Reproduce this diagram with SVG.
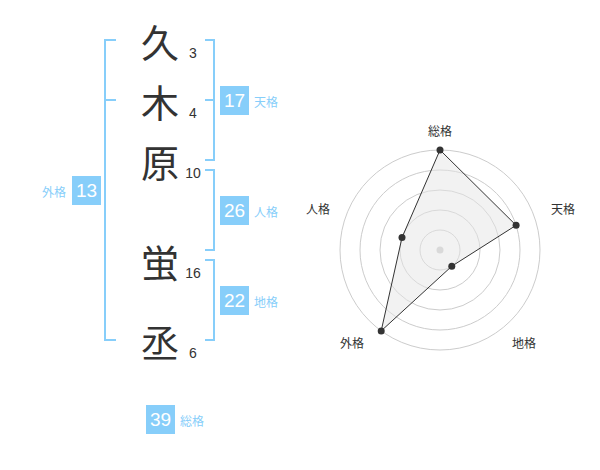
<svg xmlns="http://www.w3.org/2000/svg" width="600" height="470" viewBox="0 0 600 470">
<style>
.kanji{font-family:"Noto Sans CJK JP","Noto Sans CJK SC",sans-serif;font-size:38px;fill:#333;text-anchor:middle;dominant-baseline:central}
.num{font-family:"Liberation Sans",Arial,sans-serif;font-size:14px;fill:#333;text-anchor:middle}
.br{fill:none;stroke:#87cefa;stroke-width:2}
.box{fill:#87cefa}
.bnum{font-family:"Liberation Sans",Arial,sans-serif;font-size:19px;fill:#fff;text-anchor:middle;dominant-baseline:central}
.lbl{font-family:"Noto Sans CJK JP","Noto Sans CJK SC",sans-serif;font-size:12px;fill:#87cefa;dominant-baseline:central}
.ring{fill:none;stroke:#ccc;stroke-width:1}
.rl{font-family:"Noto Sans CJK JP","Noto Sans CJK SC",sans-serif;font-size:12px;fill:#333;text-anchor:middle;dominant-baseline:central}
.dot{fill:#333}
</style>
<rect width="600" height="470" fill="#fff"/>
<g id="chars">
<g id="c1"><text class="kanji" x="160" y="40">久</text><text class="num" x="193" y="58">3</text></g>
<g id="c2"><text class="kanji" x="160" y="100">木</text><text class="num" x="193" y="118">4</text></g>
<g id="c3"><text class="kanji" x="160" y="160">原</text><text class="num" x="193" y="178">10</text></g>
<g id="c4"><text class="kanji" x="160" y="260">蛍</text><text class="num" x="193" y="278">16</text></g>
<g id="c5"><text class="kanji" x="160" y="340">丞</text><text class="num" x="193" y="358">6</text></g>
</g>
<g id="connectors">
<path class="br" d="M116,40 H105 V340 H116 M105,100 H116"/>
<path class="br" d="M205,40 H214 V160 H205 M214,100 H205"/>
<path class="br" d="M205,170 H214 V250 H205"/>
<path class="br" d="M205,260 H214 V340 H205"/>
</g>
<g id="gaikaku"><rect class="box" x="72" y="176" width="29" height="29"/><text class="bnum" x="86.5" y="190.5">13</text><text class="lbl" x="66" y="191" text-anchor="end">外格</text></g>
<g id="tenkaku"><rect class="box" x="220" y="86" width="29" height="29"/><text class="bnum" x="234.5" y="100.5">17</text><text class="lbl" x="254" y="101">天格</text></g>
<g id="jinkaku"><rect class="box" x="220" y="196" width="29" height="29"/><text class="bnum" x="234.5" y="210.5">26</text><text class="lbl" x="254" y="211">人格</text></g>
<g id="chikaku"><rect class="box" x="220" y="286" width="29" height="29"/><text class="bnum" x="234.5" y="300.5">22</text><text class="lbl" x="254" y="301">地格</text></g>
<g id="soukaku"><rect class="box" x="146" y="405" width="29" height="29"/><text class="bnum" x="160.5" y="419.5">39</text><text class="lbl" x="180" y="420">総格</text></g>
<g id="radar">
<circle class="ring" cx="440" cy="250" r="20"/>
<circle class="ring" cx="440" cy="250" r="40"/>
<circle class="ring" cx="440" cy="250" r="60"/>
<circle class="ring" cx="440" cy="250" r="80"/>
<circle class="ring" cx="440" cy="250" r="100"/>
<circle cx="440" cy="250" r="3.5" fill="#ccc"/>
<polygon points="440,150 516.1,225.3 451.8,266.2 381.2,330.9 402,237.6" fill="#e6e6e6" fill-opacity="0.5" stroke="#333" stroke-width="1"/>
<circle class="dot" cx="440" cy="150" r="3.5"/>
<circle class="dot" cx="516.1" cy="225.3" r="3.5"/>
<circle class="dot" cx="451.8" cy="266.2" r="3.5"/>
<circle class="dot" cx="381.2" cy="330.9" r="3.5"/>
<circle class="dot" cx="402" cy="237.6" r="3.5"/>
<text class="rl" x="440" y="130">総格</text>
<text class="rl" x="563" y="208">天格</text>
<text class="rl" x="524" y="342">地格</text>
<text class="rl" x="352" y="342">外格</text>
<text class="rl" x="318" y="208">人格</text>
</g>
</svg>
